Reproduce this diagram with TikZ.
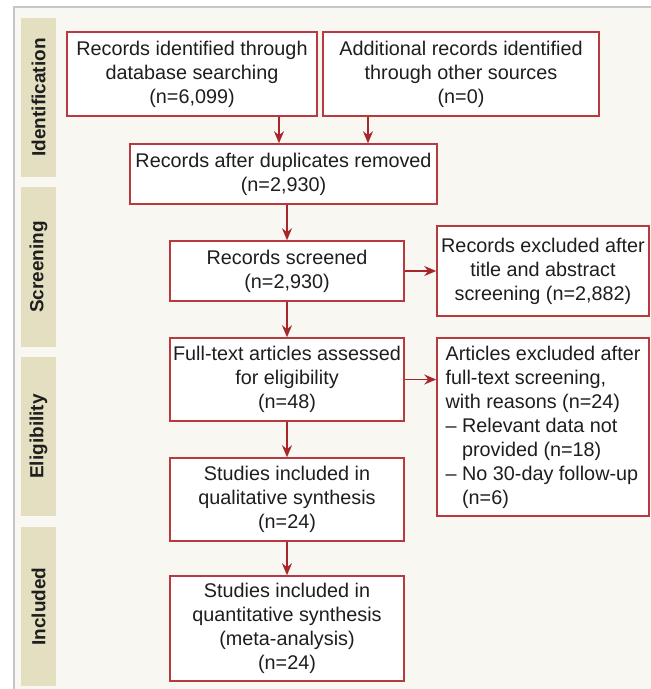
\documentclass[tikz,border=0pt]{standalone}
\usepackage{fontspec}
\setmainfont{Liberation Sans}
\usetikzlibrary{arrows.meta}
\definecolor{bg}{HTML}{F8F7F1}
\definecolor{tanc}{HTML}{E4DFC0}
\definecolor{framec}{HTML}{C6C6C6}
\definecolor{boxred}{HTML}{B83A3E}
\definecolor{arrred}{HTML}{A8262B}
\definecolor{txt}{HTML}{1E1E1E}
\begin{document}
\begin{tikzpicture}[x=1pt,y=-1pt,
 box/.style={draw=boxred, line width=1.5pt, fill=white, text=txt, align=center,
   font=\fontsize{19.8}{24}\selectfont, inner sep=0pt},
 arr/.style={draw=arrred, line width=1.6pt, -{Stealth[length=12pt,width=10pt]}},
 phase/.style={text=txt, font=\fontsize{19}{20}\selectfont\bfseries, rotate=90, inner sep=0pt},
 phasebg/.style={fill=tanc}
]
\useasboundingbox (0,0) rectangle (651,689);
\fill[white] (0,0) rectangle (651,689);
\fill[bg] (14,7) rectangle (651,689);
\draw[framec, line width=1.5pt] (14,689) -- (14,7) -- (651,7);

% phase labels
\fill[phasebg] (21,18) rectangle (56,177);
\fill[phasebg] (21,187) rectangle (56,347);
\fill[phasebg] (21,357) rectangle (56,516);
\fill[phasebg] (21,527) rectangle (56,686);
\node[phase] (p1) at (38.5,97.5) {Identification};
\node[phase] (p2) at (38.5,267) {Screening};
\node[phase] (p3) at (38.5,436.5) {Eligibility};
\node[phase] (p4) at (38.5,606.5) {Included};

% boxes
\node[box, minimum width=250pt, minimum height=84pt] (b1) at (192,74)
  {Records identified through\\database searching\\(n=6,099)};
\node[box, minimum width=276pt, minimum height=84pt] (b2) at (461,74)
  {Additional records identified\\through other sources\\(n=0)};
\node[box, minimum width=307pt, minimum height=60pt] (b3) at (283.5,174)
  {Records after duplicates removed\\(n=2,930)};
\node[box, minimum width=234pt, minimum height=60pt] (b4) at (287,271)
  {Records screened\\(n=2,930)};
\node[box, minimum width=212pt, minimum height=90pt] (b5) at (543,271)
  {Records excluded after\\title and abstract\\screening (n=2,882)};
\node[box, minimum width=234pt, minimum height=83pt] (b6) at (287,379.5)
  {Full-text articles assessed\\for eligibility\\(n=48)};
\node[box, minimum width=212pt, minimum height=178pt, align=left] (b7) at (543,427)
  {Articles excluded after\\full-text screening,\\with reasons (n=24)\\
   – Relevant data not\\\phantom{– }provided (n=18)\\
   – No 30-day follow-up\\\phantom{– }(n=6)};
\node[box, minimum width=234pt, minimum height=83pt] (b8) at (287,499.5)
  {Studies included in\\qualitative synthesis\\(n=24)};
\node[box, minimum width=234pt, minimum height=105pt] (b9) at (287,628.5)
  {Studies included in\\quantitative synthesis\\(meta-analysis)\\(n=24)};

% connectors
\coordinate (c1) at (279,0);
\coordinate (c2) at (368,0);
\draw[arr] (b1.south -| c1) -- (b3.north -| c1);
\draw[arr] (b2.south -| c2) -- (b3.north -| c2);
\draw[arr] (b3.south -| b4) -- (b4.north);
\draw[arr] (b4.east) -- (b5.west);
\draw[arr] (b4.south) -- (b6.north);
\draw[arr] (b6.east) -- (b6.east -| b7.west);
\draw[arr] (b6.south) -- (b8.north);
\draw[arr] (b8.south) -- (b9.north);
\end{tikzpicture}
\end{document}
